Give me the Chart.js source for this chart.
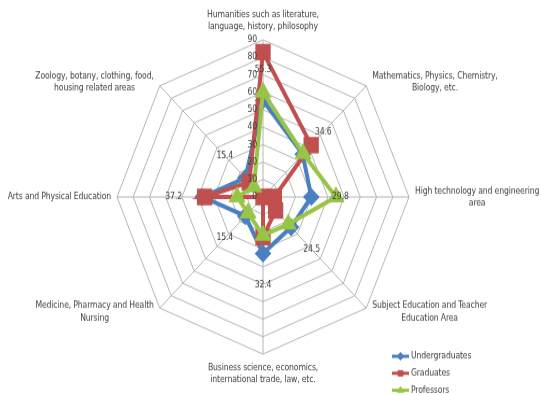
<!DOCTYPE html>
<html>
<head>
    <meta charset="utf-8">
    <title>Preferred study areas</title>
    <script src="https://cdn.jsdelivr.net/npm/chart.js"></script>
    <style>
        body, html {
            margin: 0;
            padding: 0;
            background: #fff;
        }

        .page {
            width: 541px;
            height: 395px;
            overflow: hidden;
        }

        /* the source picture is a little taller than wide, so stretch the canvas */
        .wrap {
            width: 541px;
            height: 367px;
            transform: scaleY(1.0763);
            transform-origin: 0 0;
        }
    </style>
</head>
<body>

<div class="page">
    <div class="wrap">
        <canvas id="radarChart" width="541" height="367"></canvas>
    </div>
</div>

<script>
    const categories = [
        ['Humanities such as literature,', 'language, history, philosophy'],
        ['Mathematics, Physics, Chemistry,', 'Biology, etc.'],
        ['High technology and engineering', 'area'],
        ['Subject Education and Teacher', 'Education Area'],
        ['Business science, economics,', 'international trade, law, etc.'],
        ['Medicine, Pharmacy and Health', 'Nursing'],
        ['Arts and Physical Education'],
        ['Zoology, botany, clothing, food,', 'housing related areas']
    ];

    const undergraduates = [55.3, 34.6, 29.8, 24.5, 32.4, 15.4, 37.2, 15.4];
    const graduates = [83, 42, 7, 11, 23, 0, 36, 12];
    const professors = [60, 35, 45, 22, 22, 13, 16, 8];

    const tickValues = [0, 10, 20, 30, 40, 50, 60, 70, 80, 90];

    const FONT = "8.6px 'DejaVu Sans Condensed', Roboto, sans-serif";
    const TEXT = '#404040';

    // ticks, category names, data labels and legend are drawn here
    const overlay = {
        id: 'overlay',
        afterDraw(chart) {
            const ctx = chart.ctx;
            const r = chart.scales.r;
            ctx.save();
            ctx.font = FONT;
            ctx.letterSpacing = '-0.15px';
            ctx.fillStyle = TEXT;
            ctx.textBaseline = 'middle';

            // tick labels, left of the top spoke
            ctx.textAlign = 'right';
            r.ticks.forEach(t => {
                const d = r.getDistanceFromCenterForValue(t.value);
                ctx.fillText(String(t.value), r.xCenter - 6, r.yCenter - d);
            });

            // category names
            ctx.textAlign = 'center';
            const lh = 11.2;
            categories.forEach((lines, i) => {
                const p = r.getPointPosition(i, r.drawingArea);
                const c = Math.cos(p.angle), s = Math.sin(p.angle);
                const w = Math.max(...lines.map(l => ctx.measureText(l).width));
                let cx, cy;
                if (Math.abs(c) < 0.1) {
                    cx = p.x;
                    cy = p.y + Math.sign(s) * 18;
                } else {
                    cx = c > 0 ? p.x + 6 + w / 2 : p.x - 6 - w / 2;
                    cy = p.y + s * 5;
                }
                lines.forEach((l, k) => {
                    ctx.fillText(l, cx, cy + (k - (lines.length - 1) / 2) * lh);
                });
            });

            // undergraduate value labels, pushed outward from the points
            undergraduates.forEach((v, i) => {
                const p = r.getPointPosition(i, r.getDistanceFromCenterForValue(v) + 29);
                ctx.fillText(v.toFixed(1), p.x, p.y);
            });

            // legend, bottom right
            ctx.textAlign = 'left';
            chart.data.datasets.forEach((ds, k) => {
                const y = 331 + k * 15.8;
                ctx.strokeStyle = ds.borderColor;
                ctx.fillStyle = ds.borderColor;
                ctx.lineWidth = 3;
                ctx.beginPath();
                ctx.moveTo(392, y);
                ctx.lineTo(409, y);
                ctx.stroke();
                ctx.lineWidth = 1;
                Chart.helpers.drawPoint(ctx, { pointStyle: ds.pointStyle, radius: 3.5, rotation: 0, borderWidth: 1 }, 400.5, y);
                ctx.fillStyle = TEXT;
                ctx.fillText(ds.label, 411, y);
            });
            ctx.restore();
        }
    };

    const ctx = document.getElementById('radarChart').getContext('2d');
    new Chart(ctx, {
        type: 'radar',
        data: {
            labels: categories,
            datasets: [
                {
                    label: 'Undergraduates',
                    data: undergraduates,
                    borderColor: '#4a7fc1',
                    backgroundColor: '#4a7fc1',
                    borderWidth: 4,
                    pointStyle: 'rectRot',
                    pointRadius: 5.5,
                    order: 2
                },
                {
                    label: 'Graduates',
                    data: graduates,
                    borderColor: '#c0504d',
                    backgroundColor: '#c0504d',
                    borderWidth: 4,
                    pointStyle: 'rect',
                    pointRadius: 8,
                    order: 1
                },
                {
                    label: 'Professors',
                    data: professors,
                    borderColor: '#98c447',
                    backgroundColor: '#98c447',
                    borderWidth: 4,
                    pointStyle: 'triangle',
                    pointRadius: 6,
                    order: 0
                }
            ]
        },
        options: {
            responsive: false,
            animation: false,
            layout: { padding: { left: 117, right: 131, top: 37, bottom: 37 } },
            elements: { line: { fill: false, tension: 0 } },
            plugins: {
                legend: { display: false },
                tooltip: { enabled: false }
            },
            scales: {
                r: {
                    min: tickValues[0],
                    max: tickValues[tickValues.length - 1],
                    ticks: { stepSize: tickValues[1] - tickValues[0], display: false },
                    pointLabels: { display: false },
                    grid: { color: '#b5b5b5', lineWidth: 1 },
                    angleLines: { color: '#b5b5b5', lineWidth: 1 }
                }
            }
        },
        plugins: [overlay]
    });
</script>

</body>
</html>
